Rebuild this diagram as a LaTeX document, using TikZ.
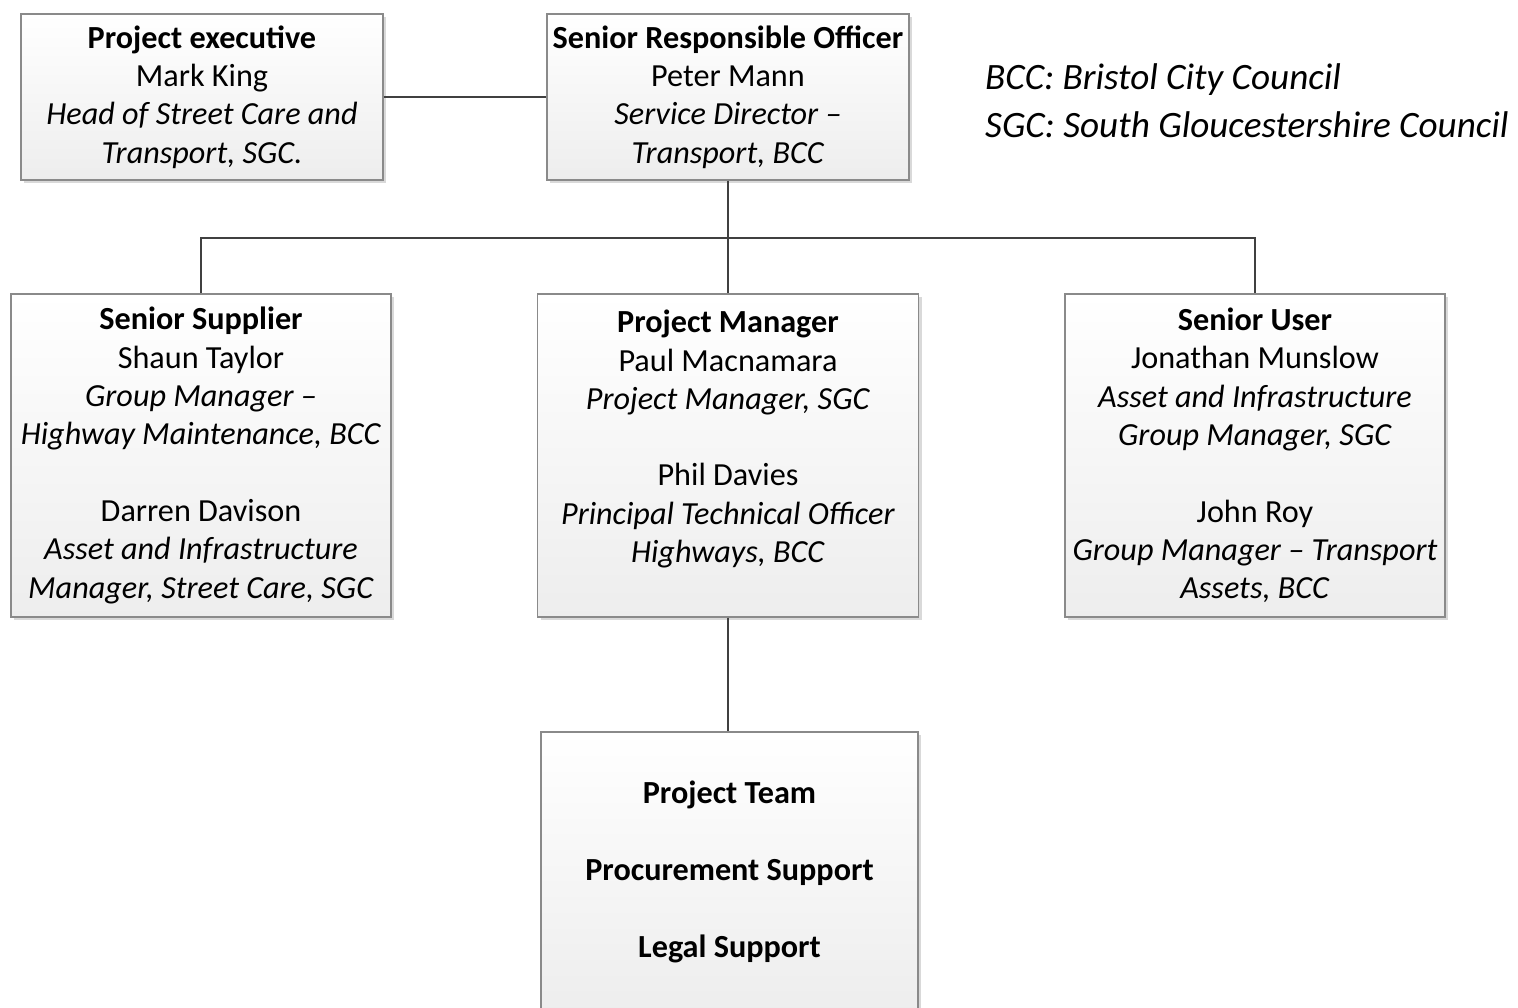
\documentclass[tikz,border=0pt]{standalone}
\usepackage{fontspec}
\setmainfont{Carlito}
\usetikzlibrary{shadows}
\definecolor{boxline}{HTML}{8A8A8A}
\definecolor{conn}{HTML}{404040}
\tikzset{
  orgbox/.style={draw=boxline, line width=1.2pt, top color=white, bottom color=black!7,
    inner sep=0pt, align=center, font=\fontsize{32.2}{38.3}\selectfont,
    drop shadow={shadow xshift=3pt, shadow yshift=-3pt, fill=black, opacity=0.15}},
  link/.style={draw=conn, line width=2pt},
  legend/.style={anchor=west, inner sep=0pt, font=\fontsize{37.2}{45}\selectfont\itshape}
}
\begin{document}
\begin{tikzpicture}[x=1pt,y=-1pt]
\useasboundingbox (0,0) rectangle (1518,1008);
\node[orgbox, minimum width=362pt, minimum height=166pt] (pe) at (202,97)
  {\textbf{Project executive}\\ Mark King\\ \textit{Head of Street Care and}\\ \textit{Transport, SGC.}};
\node[orgbox, minimum width=362pt, minimum height=166pt] (sro) at (728,97)
  {\textbf{Senior Responsible Officer}\\ Peter Mann\\ \textit{Service Director –}\\ \textit{Transport, BCC}};
\node[orgbox, minimum width=380pt, minimum height=323pt] (ss) at (201,455.5)
  {\textbf{Senior Supplier}\\ Shaun Taylor\\ \textit{Group Manager –}\\ \textit{Highway Maintenance, BCC}\\[38.3pt]
   Darren Davison\\ \textit{Asset and Infrastructure}\\ \textit{Manager, Street Care, SGC}};
\node[orgbox, minimum width=381pt, minimum height=323pt] (pm) at (728,455.5)
  {\textbf{Project Manager}\\ Paul Macnamara\\ \textit{Project Manager, SGC}\\[38.3pt]
   Phil Davies\\ \textit{Principal Technical Officer}\\ \textit{Highways, BCC}\\ \mbox{}};
\node[orgbox, minimum width=380pt, minimum height=323pt] (su) at (1255,455.5)
  {\textbf{Senior User}\\ Jonathan Munslow\\ \textit{Asset and Infrastructure}\\ \textit{Group Manager, SGC}\\[38.3pt]
   John Roy\\ \textit{Group Manager – Transport}\\ \textit{Assets, BCC}};
\node[orgbox, minimum width=377pt, minimum height=280pt] (pt) at (729.5,872)
  {\textbf{Project Team}\\[38.3pt] \textbf{Procurement Support}\\[38.3pt] \textbf{Legal Support}};
\node[legend] (l1) at (985,80) {BCC: Bristol City Council};
\node[legend] (l2) at (985,125) {SGC: South Gloucestershire Council};
\coordinate (hub) at (728,238);
\path[link] (pe.east) -- (sro.west);
\path[link] (sro.south) -- (hub);
\path[link] (ss.north) |- (hub) -| (su.north);
\path[link] (hub) -- (pm.north);
\path[link] (pm.south) -- (pm.south |- pt.north);
\end{tikzpicture}
\end{document}
